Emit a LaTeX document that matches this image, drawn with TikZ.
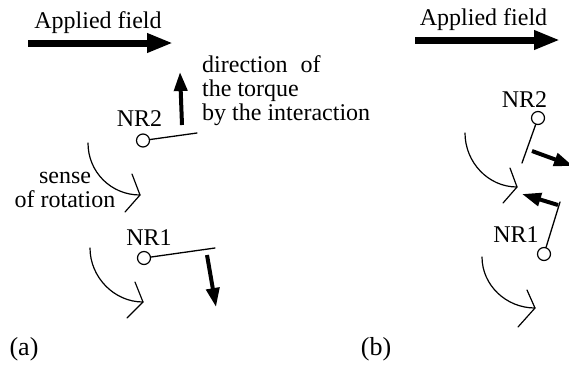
\documentclass[tikz,border=0pt]{standalone}
\usepackage{fontspec}
\setmainfont{Liberation Serif}
\usetikzlibrary{arrows.meta,calc}
\tikzset{
    every picture/.style={line cap=round,line join=round},
    fieldarrow/.style={-{Triangle[length=26pt,width=18pt]},line width=7pt,line cap=butt},
    torquearrow/.style={-{Triangle[length=19pt,width=13pt]},line width=4pt,line cap=butt},
    needle/.style={line width=1.3pt},
    pivot/.style={draw,circle,line width=1.2pt,minimum size=13pt,inner sep=0pt},
    rotmark/.style={line width=1.2pt},
    lbl/.style={font=\fontsize{24}{24}\selectfont,inner sep=0pt},
    panellbl/.style={font=\fontsize{26}{26}\selectfont,inner sep=0pt}
}

\begin{document}
\begin{tikzpicture}[x=1pt,y=-1pt]
  \useasboundingbox (0,0) rectangle (569,368);
  % panel (a)
  \node[lbl,anchor=base] (fieldA) at (98,28) {Applied field};
  \coordinate (fAs) at (28,43);
  \coordinate (fAe) at (173,43);
  \draw[fieldarrow] (fAs) -- (fAe);
  \node[pivot] (pA2) at (143,140.5) {};
  \coordinate (nA2) at (197,133);
  \draw[needle] (pA2) -- (nA2);
  \node[lbl] (labA2) at (139.5,119) {NR2};
  \coordinate (tA2s) at (182,125);
  \coordinate (tA2e) at (180,72);
  \draw[torquearrow] (tA2s) -- (tA2e);
  % base of a multi-line node is its last line
  \node[lbl,anchor=base west,align=left] (torque) at (202,120)
    {direction\hspace{0.3em} of\\the torque\\by the interaction};
  \node[pivot] (pA1) at (144,258) {};
  \coordinate (nA1) at (215,248);
  \draw[needle] (pA1) -- (nA1);
  \node[lbl] (labA1) at (149,238) {NR1};
  \coordinate (tA1s) at (207,255);
  \coordinate (tA1e) at (216,307);
  \draw[torquearrow] (tA1s) -- (tA1e);
  \node[lbl,anchor=base,align=center] (sense) at (65,207) {sense\\of rotation};
  % rotation marks
  \coordinate (rA2s) at (88,143);
  \coordinate (rA2) at (140,195);
  \draw[rotmark] (rA2s) .. controls +(0,29) and +(-29,0) .. (rA2);
  \draw[rotmark] ($(rA2)+(-8,-21)$) -- (rA2) -- ($(rA2)+(-15,17)$);
  \coordinate (rA1s) at (90,248);
  \coordinate (rA1) at (143,302);
  \draw[rotmark] (rA1s) .. controls +(0,29) and +(-29,0) .. (rA1);
  \draw[rotmark] ($(rA1)+(-8,-20)$) -- (rA1) -- ($(rA1)+(-16,16)$);
  \node[panellbl] (capA) at (24,349) {(a)};
  % panel (b)
  \node[lbl,anchor=base] (fieldB) at (483.5,25) {Applied field};
  \coordinate (fBs) at (415,40);
  \coordinate (fBe) at (560,40);
  \draw[fieldarrow] (fBs) -- (fBe);
  \node[pivot] (pB2) at (538,118) {};
  \coordinate (nB2) at (522,163);
  \draw[needle] (pB2) -- (nB2);
  \node[lbl] (labB2) at (524.5,99.5) {NR2};
  \coordinate (tB2s) at (532,151);
  \coordinate (tB2e) at (573,166);
  \draw[torquearrow] (tB2s) -- (tB2e);
  \node[pivot] (pB1) at (544,254) {};
  \coordinate (nB1) at (560,202);
  \draw[needle] (pB1) -- (nB1);
  \node[lbl] (labB1) at (516,235) {NR1};
  \coordinate (tB1s) at (558,205);
  \coordinate (tB1e) at (522,194);
  \draw[torquearrow] (tB1s) -- (tB1e);
  \coordinate (rB2s) at (465,133);
  \coordinate (rB2) at (517,187);
  \draw[rotmark] (rB2s) .. controls +(0,29) and +(-29,0) .. (rB2);
  \draw[rotmark] ($(rB2)+(-7,-19)$) -- (rB2) -- ($(rB2)+(-14,16)$);
  \coordinate (rB1s) at (482,257);
  \coordinate (rB1) at (535,308);
  \draw[rotmark] (rB1s) .. controls +(0,28) and +(-29,0) .. (rB1);
  \draw[rotmark] ($(rB1)+(-8,-18)$) -- (rB1) -- ($(rB1)+(-17,19)$);
  \node[panellbl] (capB) at (376,349) {(b)};
\end{tikzpicture}
\end{document}
